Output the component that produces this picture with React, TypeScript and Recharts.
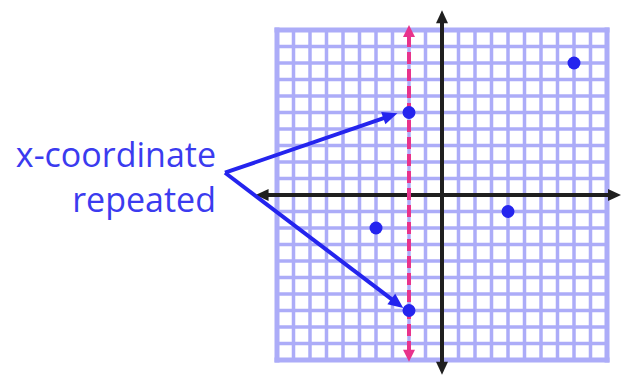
import { ReferenceLine, Scatter, ScatterChart, XAxis, YAxis } from 'recharts'

// grid runs from -10 to 10 on both axes
const gridTicks = [-10, -9, -8, -7, -6, -5, -4, -3, -2, -1, 0, 1, 2, 3, 4, 5, 6, 7, 8, 9, 10]

const points = [
  { x: -2, y: 5 },
  { x: 8, y: 8 },
  { x: -4, y: -2 },
  { x: 4, y: -1 },
  { x: -2, y: -7 },
]

// the vertical line through the repeated x-coordinate
const repeatedX = -2
const repeatedSpan = [10.3, -10.1]

// axis arrows reach a little past the grid
const xAxisSpan = [-11.3, 10.85]
const yAxisSpan = [11.2, -10.9]

// callout arrows from the label to the two points
const calloutFrom = { x: -13.15, y: 1.35 }
const calloutTo = [
  { x: -2.7, y: 4.95 },
  { x: -2.35, y: -6.85 },
]

const labelLines = ['x-coordinate', 'repeated']

const UNIT = 16.5
const WIDTH = 622
const HEIGHT = 376
const ORIGIN_X = 442
const ORIGIN_Y = 195

const GRID = '#acacf8'
const AXIS = '#1f1f1f'
const PINK = '#e8338c'
const BLUE = '#2424ee'
const TEXT = '#3b3bef'

type ArrowOpts = {
  start?: boolean
  end?: boolean
  dash?: string
  head: number
  half: number
}

function arrowLine(color: string, width: number, opts: ArrowOpts) {
  return (props: any) => {
    const { x1, y1, x2, y2 } = props
    const dx = x2 - x1
    const dy = y2 - y1
    const len = Math.hypot(dx, dy) || 1
    const ux = dx / len
    const uy = dy / len
    const px = -uy
    const py = ux
    const head = (tx: number, ty: number, dirX: number, dirY: number) => {
      const bx = tx - dirX * opts.head
      const by = ty - dirY * opts.head
      return `${tx},${ty} ${bx + px * opts.half},${by + py * opts.half} ${bx - px * opts.half},${by - py * opts.half}`
    }
    const sx = opts.start ? x1 + ux * (opts.head - 2) : x1
    const sy = opts.start ? y1 + uy * (opts.head - 2) : y1
    const ex = opts.end ? x2 - ux * (opts.head - 2) : x2
    const ey = opts.end ? y2 - uy * (opts.head - 2) : y2
    return (
      <g>
        <line x1={sx} y1={sy} x2={ex} y2={ey} stroke={color} strokeWidth={width} strokeDasharray={opts.dash} />
        {opts.start && <polygon points={head(x1, y1, -ux, -uy)} fill={color} />}
        {opts.end && <polygon points={head(x2, y2, ux, uy)} fill={color} />}
      </g>
    )
  }
}

export default function App() {
  const xDomain = [-ORIGIN_X / UNIT, (WIDTH - ORIGIN_X) / UNIT]
  const yDomain = [-(HEIGHT - ORIGIN_Y) / UNIT, ORIGIN_Y / UNIT]

  return (
    <div style={{ position: 'absolute', left: 0, top: 0, width: WIDTH, height: HEIGHT, background: '#fff' }}>
      <ScatterChart width={WIDTH} height={HEIGHT} margin={{ top: 0, right: 0, bottom: 0, left: 0 }}>
        <XAxis type="number" dataKey="x" domain={xDomain} allowDataOverflow hide />
        <YAxis type="number" dataKey="y" domain={yDomain} allowDataOverflow hide />

        {gridTicks.map((t) => (
          <ReferenceLine
            key={`v${t}`}
            segment={[{ x: t, y: -10 }, { x: t, y: 10 }]}
            stroke={GRID}
            strokeWidth={Math.abs(t) === 10 ? 5 : 3.5}
            strokeLinecap="square"
            ifOverflow="visible"
          />
        ))}
        {gridTicks.map((t) => (
          <ReferenceLine
            key={`h${t}`}
            segment={[{ x: -10, y: t }, { x: 10, y: t }]}
            stroke={GRID}
            strokeWidth={Math.abs(t) === 10 ? 5 : 3.5}
            strokeLinecap="square"
            ifOverflow="visible"
          />
        ))}

        <ReferenceLine
          segment={[{ x: xAxisSpan[0], y: 0 }, { x: xAxisSpan[1], y: 0 }]}
          ifOverflow="visible"
          shape={arrowLine(AXIS, 4, { start: true, end: true, head: 13, half: 6 })}
        />
        <ReferenceLine
          segment={[{ x: 0, y: yAxisSpan[0] }, { x: 0, y: yAxisSpan[1] }]}
          ifOverflow="visible"
          shape={arrowLine(AXIS, 4, { start: true, end: true, head: 13, half: 6 })}
        />

        <ReferenceLine
          segment={[{ x: repeatedX, y: repeatedSpan[0] }, { x: repeatedX, y: repeatedSpan[1] }]}
          ifOverflow="visible"
          shape={arrowLine(PINK, 4, { start: true, end: true, dash: '12 5', head: 12, half: 6 })}
        />

        {calloutTo.map((p, i) => (
          <ReferenceLine
            key={`c${i}`}
            segment={[calloutFrom, p]}
            ifOverflow="visible"
            shape={arrowLine(BLUE, 4, { end: true, head: 15, half: 6.5 })}
          />
        ))}

        <Scatter
          data={points}
          isAnimationActive={false}
          shape={(p: any) => <circle cx={p.cx} cy={p.cy} r={6.5} fill={BLUE} />}
        />

        <text x={216} y={167} textAnchor="end" fontFamily="Open Sans" fontSize={34} fill={TEXT}>
          {labelLines[0]}
        </text>
        <text x={216} y={212} textAnchor="end" fontFamily="Open Sans" fontSize={34} fill={TEXT}>
          {labelLines[1]}
        </text>
      </ScatterChart>
    </div>
  )
}
